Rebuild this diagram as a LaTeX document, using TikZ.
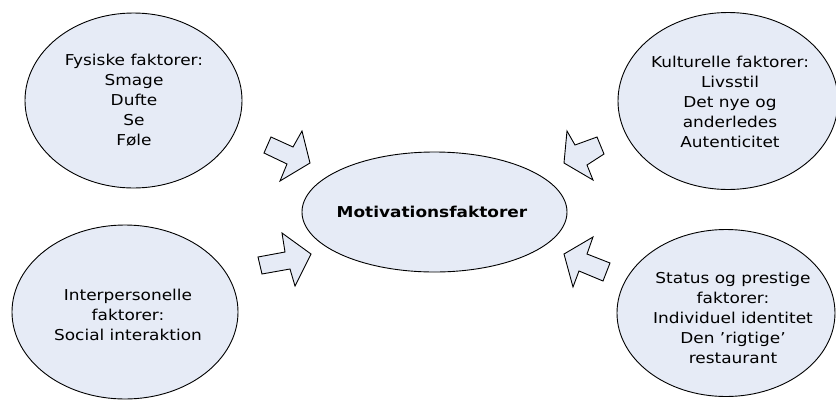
\documentclass[tikz,border=0pt]{standalone}
\usepackage{fontspec}
\setmainfont[FakeStretch=1.13]{DejaVu Sans}
\usetikzlibrary{shapes.geometric}
\definecolor{fillblue}{RGB}{230,235,246}
\tikzset{
  oval/.style={ellipse, draw=black, line width=0.9pt, fill=fillblue, inner sep=0pt},
  txt/.style={align=center, font=\fontsize{15}{20}\selectfont, inner sep=0pt},
  blockarrow/.style={draw=black, line width=0.9pt, fill=fillblue, line join=miter}
}
\begin{document}
\begin{tikzpicture}[x=1pt,y=-1pt]
\useasboundingbox (0,0) rectangle (836,400);
% ellipses
\node[oval, minimum width=217pt, minimum height=175pt] (tl) at (133.5,100.5) {};
\node[oval, minimum width=220pt, minimum height=177pt] (tr) at (728,101) {};
\node[oval, minimum width=226pt, minimum height=174pt] (bl) at (125,312) {};
\node[oval, minimum width=218pt, minimum height=167pt] (br) at (726,313) {};
\node[oval, minimum width=265pt, minimum height=120pt] (c) at (434.5,212) {};
% texts
\node[txt] (tltxt) at (134,100) {Fysiske faktorer:\\Smage\\Dufte\\Se\\Føle};
\node[txt] (trtxt) at (730,102) {Kulturelle faktorer:\\Livsstil\\Det nye og\\anderledes\\Autenticitet};
\node[txt] (bltxt) at (128,315) {Interpersonelle\\faktorer:\\Social interaktion};
\node[txt] (brtxt) at (733,318) {Status og prestige\\faktorer:\\Individuel identitet\\Den ’rigtige’\\restaurant};
\node[txt, font=\fontsize{15}{20}\selectfont\bfseries] (ctxt) at (432,212) {Motivationsfaktorer};
% block arrows
\draw[blockarrow] (264,153) -- (271,137) -- (293,147) -- (302,131) -- (310,163) -- (280,181) -- (287,164) -- cycle;
\draw[blockarrow] (564,163) -- (567,131) -- (575,145) -- (597,137) -- (604,154) -- (587,165) -- (593,180) -- cycle;
\draw[blockarrow] (258,257) -- (285,252) -- (282,233) -- (311,254) -- (295,286) -- (290,269) -- (262,274) -- cycle;
\draw[blockarrow] (564,254) -- (593,237) -- (587,254) -- (610,263) -- (603,281) -- (579,271) -- (573,287) -- cycle;
\end{tikzpicture}
\end{document}
